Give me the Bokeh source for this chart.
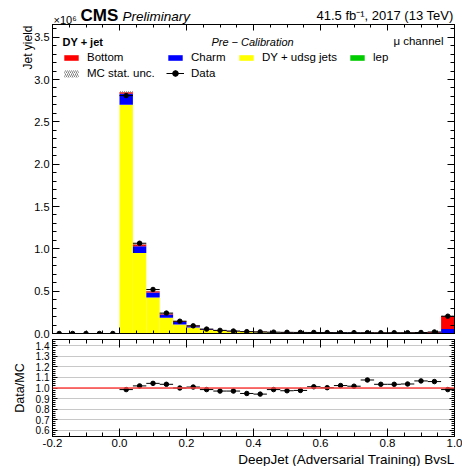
import numpy as np
from bokeh.plotting import figure
from bokeh.models import (Range1d, LinearAxis, Label, Legend, LegendItem, ColumnDataSource,
                          Span, SingleIntervalTicker, NumeralTickFormatter, Title)
from bokeh.layouts import column
from bokeh.embed import file_html
from bokeh.resources import INLINE

# ---------------- data (yields in units of 10^6) ----------------
bin_lo = [-0.20, -0.16, -0.12, -0.08, -0.04,
          0.00, 0.04, 0.08, 0.12, 0.16, 0.20, 0.24, 0.28, 0.32, 0.36,
          0.40, 0.44, 0.48, 0.52, 0.56, 0.60, 0.64, 0.68, 0.72, 0.76,
          0.80, 0.84, 0.88, 0.92, 0.96]
bin_width = 0.04

lep = [0, 0, 0, 0, 0,
       0.001, 0.0005, 0.0003, 0.0002, 0.0001, 0.0001, 0, 0, 0, 0,
       0, 0, 0, 0, 0, 0, 0, 0, 0, 0, 0, 0, 0, 0, 0]
udsg = [0, 0, 0, 0, 0,
        2.70, 0.95, 0.425, 0.185, 0.107, 0.071, 0.042, 0.030, 0.023, 0.017,
        0.014, 0.011, 0.009, 0.008, 0.007, 0.006, 0.005, 0.0045, 0.004, 0.0035,
        0.003, 0.003, 0.003, 0.003, 0.002]
charm = [0, 0, 0, 0, 0,
         0.13, 0.08, 0.058, 0.040, 0.030, 0.015, 0.009, 0.006, 0.005, 0.004,
         0.004, 0.003, 0.003, 0.003, 0.003, 0.003, 0.003, 0.003, 0.003, 0.003,
         0.003, 0.003, 0.004, 0.005, 0.050]
bottom = [0, 0, 0, 0, 0,
          0.02, 0.02, 0.017, 0.009, 0.008, 0.004, 0.002, 0.002, 0.002, 0.002,
          0.002, 0.002, 0.002, 0.002, 0.002, 0.002, 0.002, 0.002, 0.002, 0.002,
          0.003, 0.003, 0.004, 0.009, 0.155]
mc_unc = [0, 0, 0, 0, 0,
          0.012, 0.007, 0.004, 0.0025, 0.002, 0.0015, 0.001, 0.001, 0.001, 0.001,
          0.001, 0.001, 0.001, 0.001, 0.001, 0.001, 0.001, 0.001, 0.001, 0.001,
          0.001, 0.001, 0.001, 0.001, 0.003]
data = [0, 0, 0, 0, 0,
        2.81, 1.066, 0.52, 0.241, 0.145, 0.0905, 0.052, 0.0369, 0.0291, 0.0217,
        0.0188, 0.0158, 0.0137, 0.0127, 0.0121, 0.011, 0.0102, 0.0096, 0.0096, 0.0088,
        0.0093, 0.0093, 0.0117, 0.0179, 0.204]

ratio_lo = [0.00, 0.04, 0.08, 0.12, 0.16, 0.20, 0.24, 0.28, 0.32, 0.36,
            0.40, 0.44, 0.48, 0.52, 0.56, 0.60, 0.64, 0.68, 0.72, 0.76,
            0.80, 0.84, 0.88, 0.92, 0.96]
ratio = [0.985, 1.020, 1.044, 1.035, 1.000, 1.009, 0.985, 0.971, 0.971, 0.948,
         0.942, 0.985, 0.974, 0.977, 1.012, 1.003, 1.023, 1.017, 1.076, 1.035,
         1.035, 1.038, 1.067, 1.061, 0.985]
ratio_err = [0.002, 0.003, 0.004, 0.005, 0.006, 0.007, 0.008, 0.008, 0.008, 0.008,
             0.008, 0.008, 0.008, 0.008, 0.008, 0.008, 0.008, 0.008, 0.008, 0.008,
             0.008, 0.008, 0.008, 0.008, 0.004]

series_names = ["lep", "DY + udsg jets", "Charm", "Bottom"]
series_colors = ["#00cc00", "#ffff00", "#0000ff", "#ff0000"]

FONT = "Liberation Sans"

# ---------------- geometry ----------------
X0, X1 = -0.2, 1.0
Y1_TOP = 3.65
R_LO, R_HI = 0.54, 1.46
LEFT, RIGHT = 52, 8
FW = 402
HDR = 24
FH1 = 309
GAP = 6
FH2 = 97
BOT2 = 30


def style_axis(ax, labels=True, size="11.5px", major_in=7, minor_in=4):
    ax.major_tick_in = major_in
    ax.major_tick_out = 0
    ax.minor_tick_in = minor_in
    ax.minor_tick_out = 0
    ax.axis_line_color = "black"
    ax.major_tick_line_color = "black"
    ax.minor_tick_line_color = "black"
    ax.major_label_text_font = FONT
    ax.major_label_text_color = "#000000"
    ax.axis_label_text_font = FONT
    ax.axis_label_text_font_style = "normal"
    ax.axis_label_text_color = "#000000"
    if labels:
        ax.major_label_text_font_size = size
        ax.major_label_standoff = 3
    else:
        ax.major_label_text_font_size = "0px"
        ax.major_label_standoff = 0
        ax.major_label_text_alpha = 0


# ---------------- header strip (frame aligned with the panels below) ----------------
hdr = figure(frame_width=FW, frame_height=HDR, output_backend="svg", toolbar_location=None,
             x_range=Range1d(LEFT, LEFT + FW), y_range=Range1d(HDR, 0),
             x_axis_location=None, y_axis_location=None,
             min_border_left=LEFT, min_border_right=RIGHT, min_border_top=0, min_border_bottom=0)
hdr.outline_line_color = None
hdr.xgrid.visible = False
hdr.ygrid.visible = False


def hdr_text(text, x, y, size, style="normal", align="left"):
    hdr.add_layout(Label(x=x, y=y, text=text, text_font=FONT, text_font_size=size,
                         text_font_style=style, text_align=align, text_baseline="middle",
                         text_color="#000000"))


hdr_text("\u00d710\u2076", 53, 19, "11px")
hdr_text("CMS", 80, 15, "17px", "bold")
hdr_text("Preliminary", 122, 16, "13.5px", "italic")
hdr_text("41.5 fb\u207b\u00b9, 2017 (13 TeV)", 453, 15, "13px", align="right")

# ---------------- main panel ----------------
p1 = figure(frame_width=FW, frame_height=FH1, output_backend="svg", toolbar_location=None,
            x_range=Range1d(X0, X1), y_range=Range1d(0, Y1_TOP),
            x_axis_location=None, y_axis_location=None,
            min_border_left=LEFT, min_border_right=RIGHT, min_border_top=0, min_border_bottom=GAP)
p1.xgrid.visible = False
p1.ygrid.visible = False
p1.outline_line_color = "black"

xt = SingleIntervalTicker(interval=0.2, num_minor_ticks=4)
yt = SingleIntervalTicker(interval=0.5, num_minor_ticks=5)
ax_l = LinearAxis(ticker=yt, formatter=NumeralTickFormatter(format="0.0"))
style_axis(ax_l, True, "11px", 7, 4)
p1.add_layout(ax_l, "left")
p1.add_layout(Title(text="Jet yield", align="right", text_font=FONT, text_font_size="12px",
                    text_font_style="normal", text_color="#000000", standoff=-6, offset=1), "left")
ax_r = LinearAxis(ticker=yt)
style_axis(ax_r, False, major_in=7, minor_in=4)
p1.add_layout(ax_r, "right")
ax_b = LinearAxis(ticker=xt)
style_axis(ax_b, False, major_in=6, minor_in=3)
p1.add_layout(ax_b, "below")
ax_t = LinearAxis(ticker=xt)
style_axis(ax_t, False, major_in=6, minor_in=3)
p1.add_layout(ax_t, "above")

lo = np.array(bin_lo)
hi = lo + bin_width
ctr = lo + bin_width / 2
stack = [np.array(lep), np.array(udsg), np.array(charm), np.array(bottom)]
base = np.zeros_like(lo)
stack_renderers = []
for vals, name, col in zip(stack, series_names, series_colors):
    top = base + vals
    r = p1.quad(left=lo, right=hi, bottom=base, top=top, fill_color=col, line_color=None)
    stack_renderers.append(r)
    base = top
total = base
unc = np.array(mc_unc)
r_unc = p1.quad(left=lo, right=hi, bottom=total - unc, top=total + unc, fill_alpha=0,
                line_color=None, hatch_pattern="/", hatch_color="#7f7f7f", hatch_scale=4, hatch_weight=1)

d = np.array(data)
r_hbar = p1.segment(x0=lo, x1=hi, y0=d, y1=d, line_color="black", line_width=1)
r_dat = p1.scatter(x=ctr, y=d, size=4.5, marker="circle", fill_color="black", line_color="black")

# legend-only marker (no visible points: NaN positions)
nan_src = ColumnDataSource(data=dict(x=[np.nan], y=[np.nan]))
r_leg_cross = p1.scatter(x="x", y="y", source=nan_src, marker="cross", size=10,
                         line_color="black", line_width=1)

frame_bottom = HDR + FH1


def add_leg(label, renderers, px_left, py_center, gh=7):
    leg = Legend(items=[LegendItem(label=label, renderers=renderers)],
                 location=(px_left - LEFT, frame_bottom - py_center - 7),
                 glyph_width=18, glyph_height=gh, label_height=14, label_standoff=7,
                 label_text_font=FONT, label_text_font_size="11.5px", label_text_color="#000000",
                 padding=0, margin=0, spacing=0, border_line_alpha=0, background_fill_alpha=0)
    p1.add_layout(leg)


add_leg("Bottom", [stack_renderers[3]], 62, 57)
add_leg("Charm", [stack_renderers[2]], 166, 57)
add_leg("DY + udsg jets", [stack_renderers[1]], 237, 57)
add_leg("lep", [stack_renderers[0]], 348, 57)
add_leg("MC stat. unc.", [r_unc], 62, 73, gh=9)
add_leg("Data", [r_hbar, r_leg_cross, r_dat], 166, 73, gh=14)

y_of = lambda py: Y1_TOP * (frame_bottom - py) / FH1
x_of = lambda px: X0 + (px - LEFT) / FW * (X1 - X0)


def main_text(text, px, py, size, style="normal", align="left"):
    p1.add_layout(Label(x=x_of(px), y=y_of(py), text=text, text_font=FONT, text_font_size=size,
                        text_font_style=style, text_align=align, text_baseline="middle",
                        text_color="#000000"))


main_text("DY + jet", 62, 41, "11px", "bold")
main_text("Pre \u2212 Calibration", 252, 41, "11px", "italic", align="center")
main_text("\u03bc channel", 443, 40, "11.5px", align="right")

# ---------------- ratio panel ----------------
p2 = figure(frame_width=FW, frame_height=FH2, output_backend="svg", toolbar_location=None,
            x_range=p1.x_range, y_range=Range1d(R_LO, R_HI),
            x_axis_location=None, y_axis_location=None,
            min_border_left=LEFT, min_border_right=RIGHT, min_border_top=0, min_border_bottom=BOT2)
p2.outline_line_color = "black"
p2.xgrid.visible = False

rt = SingleIntervalTicker(interval=0.1, num_minor_ticks=5)
ax2_l = LinearAxis(ticker=rt, formatter=NumeralTickFormatter(format="0.0"))
style_axis(ax2_l, True, "10px", 5, 3)
ax2_l.axis_label = "Data/MC"
ax2_l.axis_label_text_font_size = "12.5px"
ax2_l.axis_label_standoff = 6
p2.add_layout(ax2_l, "left")
ax2_r = LinearAxis(ticker=rt)
style_axis(ax2_r, False, major_in=5, minor_in=3)
p2.add_layout(ax2_r, "right")
ax2_b = LinearAxis(ticker=xt, formatter=NumeralTickFormatter(format="0.0"))
style_axis(ax2_b, True, "11.5px", 8, 4)
ax2_b.major_label_standoff = 2
p2.add_layout(ax2_b, "below")
p2.add_layout(Title(text="DeepJet (Adversarial Training) BvsL", align="right", text_font=FONT,
                    text_font_size="13.5px", text_font_style="normal", text_color="#000000",
                    standoff=0, offset=0), "below")
ax2_t = LinearAxis(ticker=xt)
style_axis(ax2_t, False, major_in=8, minor_in=4)
p2.add_layout(ax2_t, "above")

p2.ygrid.ticker = SingleIntervalTicker(interval=0.1)
p2.ygrid.grid_line_color = "#c8c8c8"
p2.ygrid.grid_line_width = 1

p2.add_layout(Span(location=1.0, dimension="width", line_color="#ff4545", line_width=1.5, level="overlay"))

rlo = np.array(ratio_lo)
rhi = rlo + bin_width
rc = rlo + bin_width / 2
rv = np.array(ratio)
re = np.array(ratio_err)
p2.segment(x0=rlo, x1=rhi, y0=rv, y1=rv, line_color="black", line_width=1)
p2.segment(x0=rc, x1=rc, y0=rv - re, y1=rv + re, line_color="black", line_width=1)
p2.scatter(x=rc, y=rv, size=4.5, marker="circle", fill_color="black", line_color="black")

layout = column(hdr, p1, p2, spacing=0)
open("out.html", "w").write(file_html(layout, INLINE))
